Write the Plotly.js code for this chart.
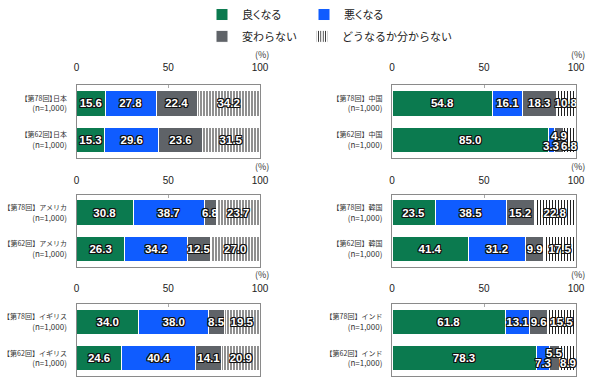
<!DOCTYPE html>
<html>
<head>
<meta charset="utf-8">
<script src="https://cdn.plot.ly/plotly-3.0.1.min.js"></script>
<style>
html,body{margin:0;padding:0;background:#fff;}
#chart{width:600px;height:389px;}
#chart .ytick text, #chart .legendtext{font-feature-settings:"palt" 1;}
</style>
</head>
<body>
<div id="chart"></div>
<script>
// ---- data ----
const countries = ['日本', '中国', 'アメリカ', '韓国', 'イギリス', 'インド'];
const rounds = ['【第78回】', '【第62回】'];
const sampleLabel = '(n=1,000)';
const seriesNames = ['良くなる', '悪くなる', '変わらない', 'どうなるか分からない'];
const tickVals = [0, 50, 100];
const tickLabels = ['0', '50', '100'];
// values per country: [第78回, 第62回]
const better  = [[15.6, 15.3], [54.8, 85.0], [30.8, 26.3], [23.5, 41.4], [34.0, 24.6], [61.8, 78.3]];
const worse   = [[27.8, 29.6], [16.1, 3.3],  [38.7, 34.2], [38.5, 31.2], [38.0, 40.4], [13.1, 7.3]];
const same    = [[22.4, 23.6], [18.3, 4.9],  [6.8, 12.5],  [15.2, 9.9],  [8.5, 14.1],  [9.6, 5.5]];
const unknown = [[34.2, 31.5], [10.8, 6.8],  [23.7, 27.0], [22.8, 17.5], [19.5, 20.9], [15.5, 8.9]];

// ---- styles ----
const colors = ['#0b7a4f', '#0f5cff', '#5f6368', '#ffffff'];
const series = [better, worse, same, unknown];
// label vertical shifts (px) for crowded bars: key = panelIndex-rowIndex
const labelShift = {'1-1': [0, 6, -4, 6], '5-1': [0, 5, -5, 5]};

const W = 600, H = 389;
const xDomains = [[76.5 / W, 260 / W], [392 / W, 576 / W]];
const yDomains = [[1 - 156 / H, 1 - 83 / H], [1 - 266 / H, 1 - 193 / H], [1 - 376 / H, 1 - 303 / H]];
const tickStandoff = [9, 6, 7];
const pctOffset = [31, 28, 29];

const labelFont = {family: 'Liberation Sans, Arial, sans-serif', size: 11.5, color: '#ffffff', weight: 700,
  shadow: '1px 0 0 #111, -1px 0 0 #111, 0 1px 0 #111, 0 -1px 0 #111, 1px 1px 0 #111, -1px -1px 0 #111, 1px -1px 0 #111, -1px 1px 0 #111'};

const traces = [];
const annotations = [];
const legendBase = {orientation: 'h', x: 202 / W, xanchor: 'left', yanchor: 'top', traceorder: 'normal',
  font: {size: 11, color: '#222'}, bgcolor: 'rgba(0,0,0,0)', tracegroupgap: 0};
const layout = {
  width: W, height: H,
  margin: {l: 0, r: 0, t: 0, b: 0},
  paper_bgcolor: '#fff', plot_bgcolor: '#fff',
  barmode: 'stack', bargap: 0.3,
  showlegend: true,
  uniformtext: {mode: 'show', minsize: 11.5},
  font: {family: 'Noto Sans CJK JP, sans-serif', color: '#333'},
  legend: Object.assign({}, legendBase, {y: 1 + 3 / H, entrywidth: 57}),
  legend2: Object.assign({}, legendBase, {y: 1 - 19 / H}),
  annotations: annotations
};

countries.forEach((c, p) => {
  const col = p % 2, row = Math.floor(p / 2);
  const sfx = p === 0 ? '' : String(p + 1);
  const xa = 'x' + sfx, ya = 'y' + sfx;
  const cats = rounds.map(r => '<span style="font-size:7px">' + r + c + '</span><br>' + sampleLabel);
  series.forEach((s, k) => {
    const vals = s[p];
    const txt = vals.map((v, i) => {
      const sh = labelShift[p + '-' + i];
      return (sh && sh[k] !== 0) ? '' : v.toFixed(1);
    });
    const tr = {
      type: 'bar', orientation: 'h', name: seriesNames[k],
      x: vals, y: cats, xaxis: xa, yaxis: ya,
      text: txt, textposition: 'inside', insidetextanchor: 'middle', textangle: 0,
      textfont: labelFont, constraintext: 'none',
      marker: {color: colors[k], line: {color: '#ffffff', width: 1}},
      hoverinfo: 'x+name',
      showlegend: p === 0,
      legend: k < 2 ? 'legend' : 'legend2'
    };
    if (k === 3) {
      tr.marker.pattern = {shape: '|', fgcolor: '#222', bgcolor: '#ffffff', size: 3, solidity: 0.35};
    }
    traces.push(tr);
  });
  // shifted labels
  rounds.forEach((r, i) => {
    const sh = labelShift[p + '-' + i];
    if (!sh) return;
    let cum = 0;
    series.forEach((s, k) => {
      const v = s[p][i];
      if (sh[k] !== 0) {
        annotations.push({xref: xa, yref: ya, x: cum + v / 2, y: cats[i], yshift: -sh[k],
          text: v.toFixed(1), showarrow: false, font: labelFont});
      }
      cum += v;
    });
  });
  layout['xaxis' + sfx] = {
    domain: xDomains[col], anchor: ya, range: [0, 100], side: 'top',
    tickvals: tickVals, ticktext: tickLabels, ticks: 'inside', ticklen: 3, tickcolor: '#aaa',
    ticklabelstandoff: tickStandoff[row], tickfont: {family: 'Liberation Sans, Arial, sans-serif', size: 10, color: '#222'},
    showline: true, mirror: true, linecolor: '#8a8a8a', linewidth: 1,
    showgrid: false, zeroline: false, fixedrange: true
  };
  layout['yaxis' + sfx] = {
    domain: yDomains[row], anchor: xa, autorange: 'reversed', type: 'category',
    ticks: '', ticklabelstandoff: 7,
    tickfont: {family: 'Noto Sans CJK JP, sans-serif', size: 8, color: '#333'},
    showline: true, mirror: true, linecolor: '#8a8a8a', linewidth: 1,
    showgrid: false, zeroline: false, fixedrange: true
  };
  annotations.push({xref: xa + ' domain', yref: 'paper', x: 1.01, y: yDomains[row][1] + pctOffset[row] / H,
    text: '(%)', showarrow: false, xanchor: 'center', yanchor: 'middle',
    font: {family: 'Noto Sans CJK JP, sans-serif', size: 9, color: '#333'}});
});

Plotly.newPlot('chart', traces, layout, {displayModeBar: false, staticPlot: true});
</script>
</body>
</html>
